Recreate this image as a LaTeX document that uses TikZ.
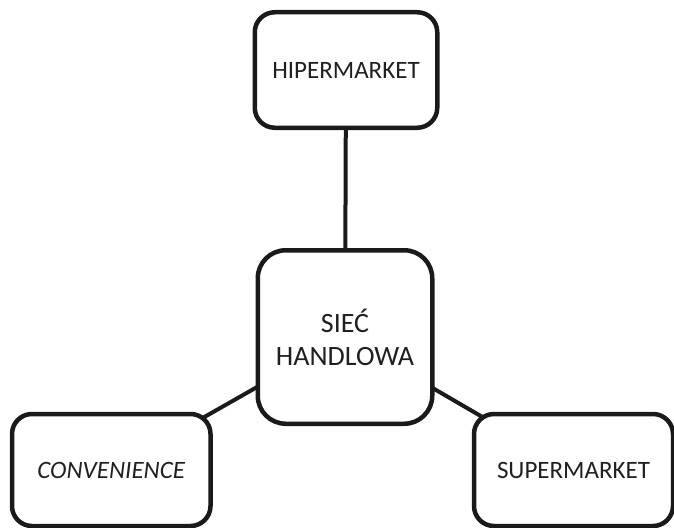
\documentclass[tikz,border=0pt]{standalone}
\usepackage{fontspec}
\setmainfont{Carlito}
\usetikzlibrary{backgrounds}
\definecolor{ink}{HTML}{1A1A1A}
\definecolor{txt}{HTML}{231F20}
\begin{document}
\begin{tikzpicture}[x=1pt,y=-1pt,
  box/.style={draw=ink, line width=4.5pt, fill=white, rounded corners=20pt,
    inner sep=0pt, outer sep=0pt, align=center, text=txt,
    font=\fontsize{25}{32}\selectfont},
  link/.style={draw=ink, line width=4pt}]
\useasboundingbox (0,0) rectangle (674,527);
\clip (0,0) rectangle (674,527);
\node[box, minimum width=182.5pt, minimum height=115.5pt] (hiper) at (346,70) {HIPERMARKET};
\node[box, rounded corners=28pt, minimum width=174.5pt, minimum height=173.5pt,
  font=\fontsize{28}{33}\selectfont] (siec) at (345,337) {SIEĆ\\HANDLOWA};
\node[box, minimum width=198.5pt, minimum height=112pt] (conv) at (111.25,470) {\itshape CONVENIENCE};
\node[box, minimum width=199pt, minimum height=112pt] (super) at (573.5,470) {SUPERMARKET};
\begin{scope}[on background layer]
\draw[link] (siec.center) -- (hiper.center);
\draw[link] (siec.center) -- (conv.center);
\draw[link] (siec.center) -- (super.center);
\end{scope}
\end{tikzpicture}
\end{document}
